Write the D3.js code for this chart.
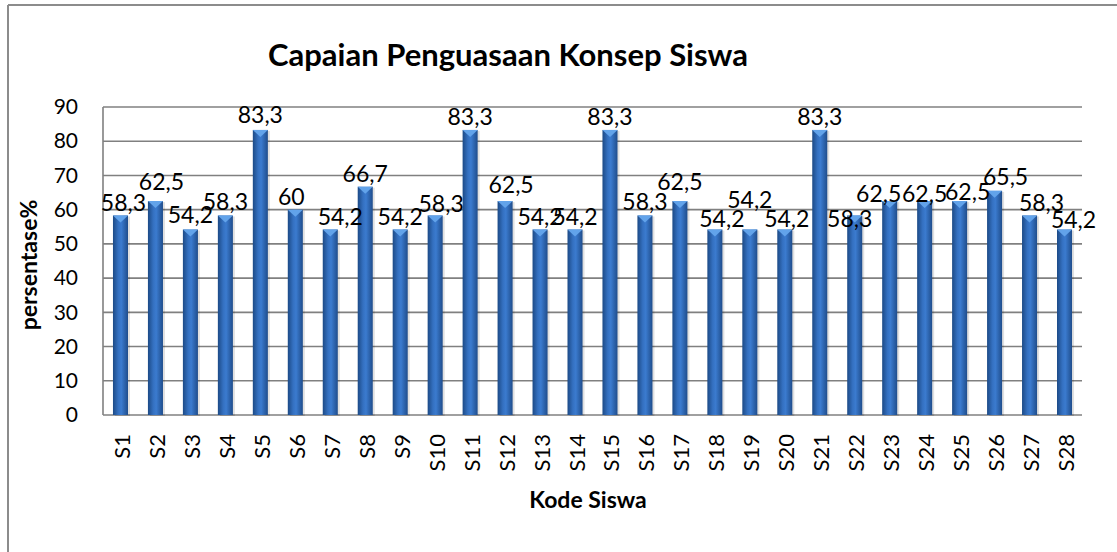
<!DOCTYPE html>
<html>
<head>
<meta charset="utf-8">
<script src="https://cdn.jsdelivr.net/npm/d3@7"></script>
<style>
  body { margin: 0; background: #fff; }
  text { font-family: Lato, "Open Sans", sans-serif; fill: #000; }
</style>
</head>
<body>
<div id="chart"></div>
<script>
var categories = ['S1','S2','S3','S4','S5','S6','S7','S8','S9','S10','S11','S12','S13','S14',
    'S15','S16','S17','S18','S19','S20','S21','S22','S23','S24','S25','S26','S27','S28'];
var values = [58.3, 62.5, 54.2, 58.3, 83.3, 60, 54.2, 66.7, 54.2, 58.3, 83.3, 62.5, 54.2, 54.2,
    83.3, 58.3, 62.5, 54.2, 54.2, 54.2, 83.3, 58.3, 62.5, 62.5, 62.5, 65.5, 58.3, 54.2];
var y_ticks = [0, 10, 20, 30, 40, 50, 60, 70, 80, 90];

var chart_width = 1117;
var chart_height = 552;
var plot = { left: 103, right: 1082, top: 107, bottom: 415 };

// deslocamentos manuais dos rotulos (como no original)
var label_nudge = {
    S1: [3, 1], S2: [6, -6], S3: [0, -2], S5: [0, -2], S6: [-4, 0], S7: [10, 0],
    S10: [6, 2], S12: [6, -3], S17: [0, -6], S18: [7, 2], S19: [0, -17], S20: [2, 2],
    S22: [-5, 17], S23: [-11, 6], S24: [0, 6], S25: [8, 4], S26: [11, -1],
    S27: [12, 1], S28: [9, 3]
};

var data = categories.map(function (c, i) { return { name: c, value: values[i] }; });

var svg = d3.select('#chart')
    .append('svg')
    .attr('width', chart_width)
    .attr('height', chart_height);

// gradiente das barras
var defs = svg.append('defs');
var grad = defs.append('linearGradient')
    .attr('id', 'barGrad')
    .attr('x1', '0%').attr('x2', '100%').attr('y1', '0%').attr('y2', '0%');
grad.append('stop').attr('offset', '0%').attr('stop-color', '#1c4a86');
grad.append('stop').attr('offset', '35%').attr('stop-color', '#3470c0');
grad.append('stop').attr('offset', '55%').attr('stop-color', '#3b7bcf');
grad.append('stop').attr('offset', '100%').attr('stop-color', '#1f4d8c');

// borda externa (so topo e esquerda aparecem)
svg.append('line')
    .attr('x1', 8).attr('y1', 5).attr('x2', chart_width).attr('y2', 5)
    .attr('stroke', '#8c8c8c').attr('stroke-width', 2);
svg.append('line')
    .attr('x1', 8).attr('y1', 5).attr('x2', 8).attr('y2', chart_height)
    .attr('stroke', '#8c8c8c').attr('stroke-width', 2);

// escalas
var x_scale = d3.scaleBand()
    .domain(categories)
    .range([plot.left, plot.right])
    .paddingInner(0.57)
    .paddingOuter(0.285);

var y_scale = d3.scaleLinear()
    .domain([0, 90])
    .range([plot.bottom, plot.top]);

// linhas de grade
svg.append('g')
    .selectAll('line')
    .data(y_ticks)
    .enter()
    .append('line')
    .attr('x1', plot.left)
    .attr('x2', plot.right)
    .attr('y1', function (d) { return y_scale(d); })
    .attr('y2', function (d) { return y_scale(d); })
    .attr('stroke', '#808080')
    .attr('stroke-width', 1.6);

svg.append('line')
    .attr('x1', plot.left).attr('x2', plot.left)
    .attr('y1', plot.top).attr('y2', plot.bottom)
    .attr('stroke', '#808080').attr('stroke-width', 1.6);

// rotulos do eixo y
var y_axis = d3.axisLeft(y_scale).tickValues(y_ticks).tickSize(0).tickPadding(25);
var gy = svg.append('g')
    .attr('transform', 'translate(' + plot.left + ',0)')
    .call(y_axis);
gy.select('.domain').remove();
gy.selectAll('text')
    .style('font-size', '21px')
    .attr('fill', '#000');

// barras
var bars = svg.append('g')
    .selectAll('g')
    .data(data)
    .enter()
    .append('g');

bars.append('rect')
    .attr('x', function (d) { return x_scale(d.name) + 2; })
    .attr('y', function (d) { return y_scale(d.value) + 1; })
    .attr('width', x_scale.bandwidth())
    .attr('height', function (d) { return plot.bottom - y_scale(d.value); })
    .attr('fill', '#000')
    .attr('opacity', 0.12);

bars.append('rect')
    .attr('x', function (d) { return x_scale(d.name); })
    .attr('y', function (d) { return y_scale(d.value); })
    .attr('width', x_scale.bandwidth())
    .attr('height', function (d) { return plot.bottom - y_scale(d.value); })
    .attr('fill', 'url(#barGrad)');

// bisel no topo
bars.append('path')
    .attr('d', function (d) {
        var x0 = x_scale(d.name), w = x_scale.bandwidth(), y0 = y_scale(d.value);
        return 'M' + x0 + ',' + y0 + 'L' + (x0 + w) + ',' + y0 +
            'L' + (x0 + w / 2) + ',' + (y0 + 7) + 'Z';
    })
    .attr('fill', '#62a3ea');

// rotulos de dados
svg.append('g')
    .selectAll('text')
    .data(data)
    .enter()
    .append('text')
    .text(function (d) { return String(d.value).replace('.', ','); })
    .attr('x', function (d) {
        var n = label_nudge[d.name] || [0, 0];
        return x_scale(d.name) + x_scale.bandwidth() / 2 + n[0];
    })
    .attr('y', function (d) {
        var n = label_nudge[d.name] || [0, 0];
        return y_scale(d.value) - 5 + n[1];
    })
    .attr('text-anchor', 'middle')
    .style('font-size', '23px');

// rotulos do eixo x (girados)
svg.append('g')
    .selectAll('text')
    .data(categories)
    .enter()
    .append('text')
    .text(function (d) { return d; })
    .attr('transform', function (d) {
        return 'translate(' + (x_scale(d) + x_scale.bandwidth() / 2 + 1) + ',434) rotate(-90)';
    })
    .attr('text-anchor', 'end')
    .attr('dominant-baseline', 'central')
    .style('font-size', '22px');

// titulos
svg.append('text')
    .text('Capaian Penguasaan Konsep Siswa')
    .attr('x', 508)
    .attr('y', 66)
    .attr('text-anchor', 'middle')
    .style('font-size', '31px')
    .style('font-weight', 'bold');

svg.append('text')
    .text('Kode Siswa')
    .attr('x', 588)
    .attr('y', 508)
    .attr('text-anchor', 'middle')
    .style('font-size', '23px')
    .style('font-weight', 'bold');

svg.append('text')
    .text('persentase%')
    .attr('transform', 'translate(37,265) rotate(-90)')
    .attr('text-anchor', 'middle')
    .style('font-size', '23px')
    .style('font-weight', 'bold');
</script>
</body>
</html>
